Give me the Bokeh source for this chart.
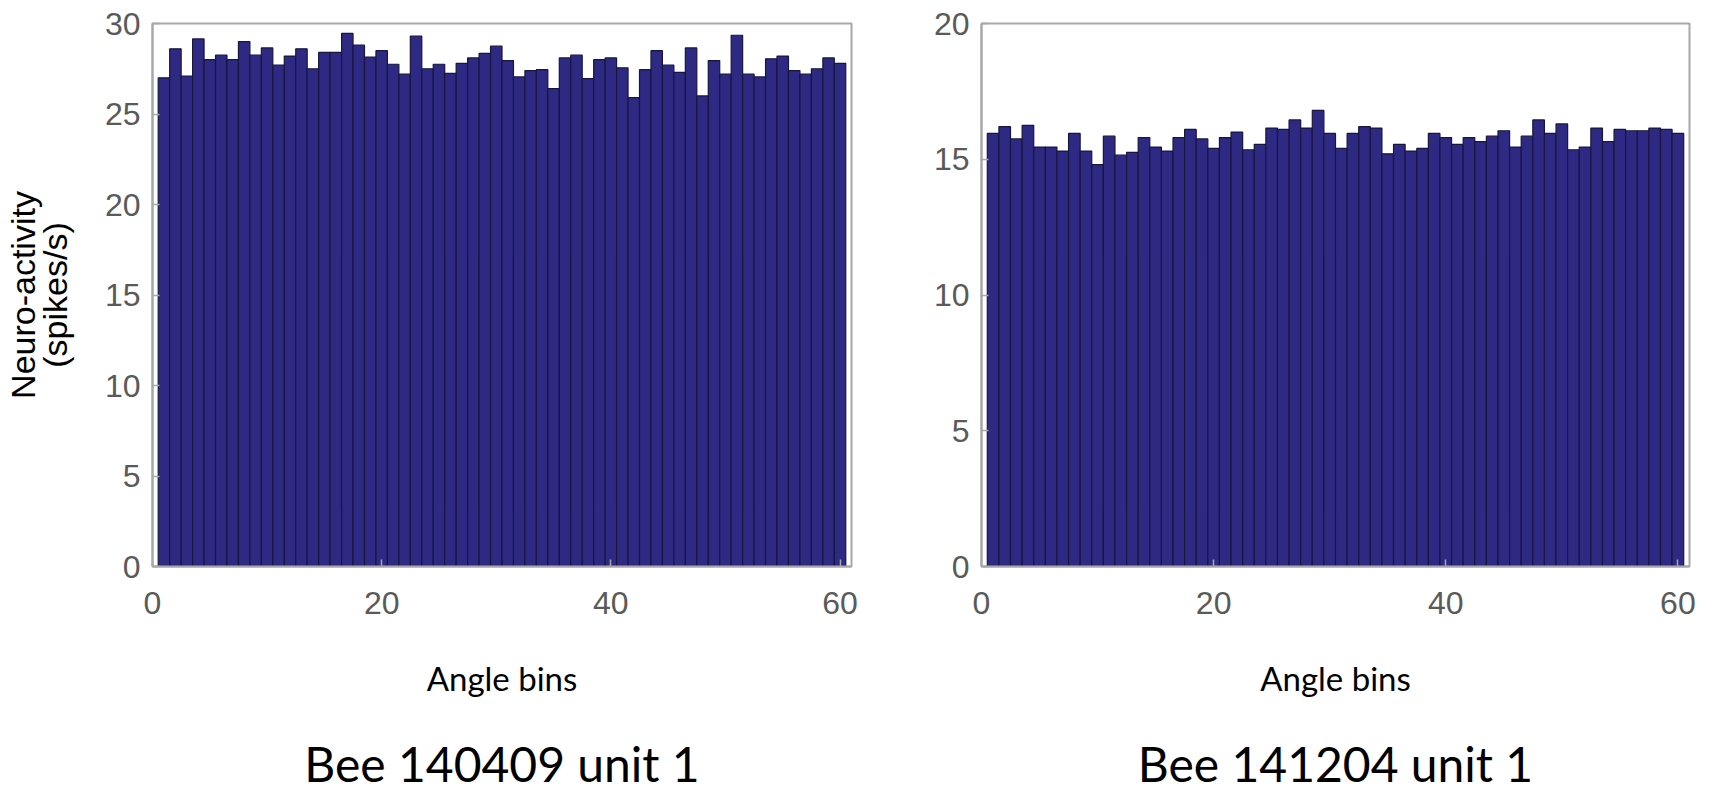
from bokeh.plotting import figure
from bokeh.layouts import row
from bokeh.models import FixedTicker, LinearAxis, Range1d
from bokeh.embed import file_html
from bokeh.resources import INLINE

bins = list(range(1, 61))
bee1_rates = [27.0, 28.6, 27.1, 29.15, 28.0, 28.25, 28.0, 29.0, 28.25, 28.65,
              27.7, 28.2, 28.6, 27.5, 28.4, 28.4, 29.45, 28.8, 28.15, 28.5,
              27.75, 27.2, 29.3, 27.5, 27.75, 27.25, 27.8, 28.1, 28.35, 28.75,
              27.95, 27.05, 27.4, 27.45, 26.4, 28.1, 28.25, 26.95, 28.0, 28.1,
              27.55, 25.9, 27.45, 28.5, 27.7, 27.3, 28.65, 26.0, 27.95, 27.2,
              29.35, 27.2, 27.05, 28.05, 28.2, 27.4, 27.2, 27.5, 28.1, 27.8]
bee2_rates = [15.95, 16.2, 15.75, 16.25, 15.45, 15.45, 15.3, 15.95, 15.3, 14.8,
              15.85, 15.15, 15.25, 15.8, 15.45, 15.3, 15.8, 16.1, 15.75, 15.4,
              15.8, 16.0, 15.35, 15.55, 16.15, 16.1, 16.45, 16.15, 16.8, 15.95,
              15.4, 15.95, 16.2, 16.15, 15.2, 15.55, 15.3, 15.4, 15.95, 15.8,
              15.55, 15.8, 15.65, 15.85, 16.05, 15.45, 15.85, 16.45, 15.95, 16.3,
              15.35, 15.45, 16.15, 15.65, 16.1, 16.05, 16.05, 16.15, 16.1, 15.95]
x_ticks = [0, 20, 40, 60]
y1_ticks = [0, 5, 10, 15, 20, 25, 30]
y2_ticks = [0, 5, 10, 15, 20]
titles = ["Bee 140409 unit 1", "Bee 141204 unit 1"]
x_label = "Angle bins"
y_label = "Neuro-activity\n(spikes/s)"

BAR_FILL = "#2e2a84"
BAR_LINE = "#17163f"
AXIS_COLOR = "#a8a8a8"
TICK_COLOR = "#5a5a5a"
TICK_FONT = "Liberation Sans"
TEXT_FONT = "Lato"
FIG_H = 796


def style_axis(ax, ticks):
    ax.ticker = FixedTicker(ticks=ticks)
    ax.minor_tick_line_color = None
    ax.major_tick_in = 7
    ax.major_tick_out = 0
    ax.major_tick_line_color = AXIS_COLOR
    ax.major_tick_line_width = 1.5
    ax.axis_line_color = AXIS_COLOR
    ax.axis_line_width = 2
    ax.major_label_text_font = TICK_FONT
    ax.major_label_text_font_size = "32px"
    ax.major_label_text_color = TICK_COLOR


def make_panel(values, ymax, yticks, title, width, bl, br, ylabel=None):
    p = figure(width=width, height=FIG_H, output_backend="svg", toolbar_location=None,
               x_range=Range1d(0, 61), y_range=Range1d(0, ymax),
               min_border_left=bl, min_border_right=br,
               min_border_top=23, min_border_bottom=230)
    p.grid.visible = False
    p.outline_line_color = AXIS_COLOR
    p.outline_line_width = 2
    p.background_fill_color = "white"
    p.border_fill_color = "white"
    p.vbar(x=bins, top=values, width=1.0, bottom=0,
           fill_color=BAR_FILL, line_color=BAR_LINE, line_width=1.2)

    xa = p.xaxis[0]
    style_axis(xa, x_ticks)
    xa.major_label_standoff = 25
    xa.axis_label = x_label
    xa.axis_label_text_font = TEXT_FONT
    xa.axis_label_text_font_size = "33px"
    xa.axis_label_text_font_style = "normal"
    xa.axis_label_text_color = "black"
    xa.axis_label_standoff = 41

    ya = p.yaxis[0]
    style_axis(ya, yticks)
    ya.major_label_standoff = 12
    if ylabel:
        ya.axis_label = ylabel
        ya.axis_label_text_font = TICK_FONT
        ya.axis_label_text_font_size = "34px"
        ya.axis_label_text_line_height = 0.85
        ya.axis_label_text_font_style = "normal"
        ya.axis_label_text_color = "black"
        ya.axis_label_standoff = 28

    # panel caption below the axis title, as a tick-less extra axis label
    cap = LinearAxis(ticker=FixedTicker(ticks=[]), axis_line_color=None,
                     major_tick_line_color=None, minor_tick_line_color=None,
                     major_label_text_font_size="0px", major_label_standoff=0,
                     axis_label=title, axis_label_text_font=TEXT_FONT,
                     axis_label_text_font_size="48px",
                     axis_label_text_font_style="normal",
                     axis_label_text_color="black", axis_label_standoff=34)
    p.add_layout(cap, "below")
    return p


p1 = make_panel(bee1_rates, 30, y1_ticks, titles[0], 900, 144, 49, ylabel=y_label)
p2 = make_panel(bee2_rates, 20, y2_ticks, titles[1], 802, 81, 13)

layout = row(p1, p2)
open("out.html", "w").write(file_html(layout, INLINE))
